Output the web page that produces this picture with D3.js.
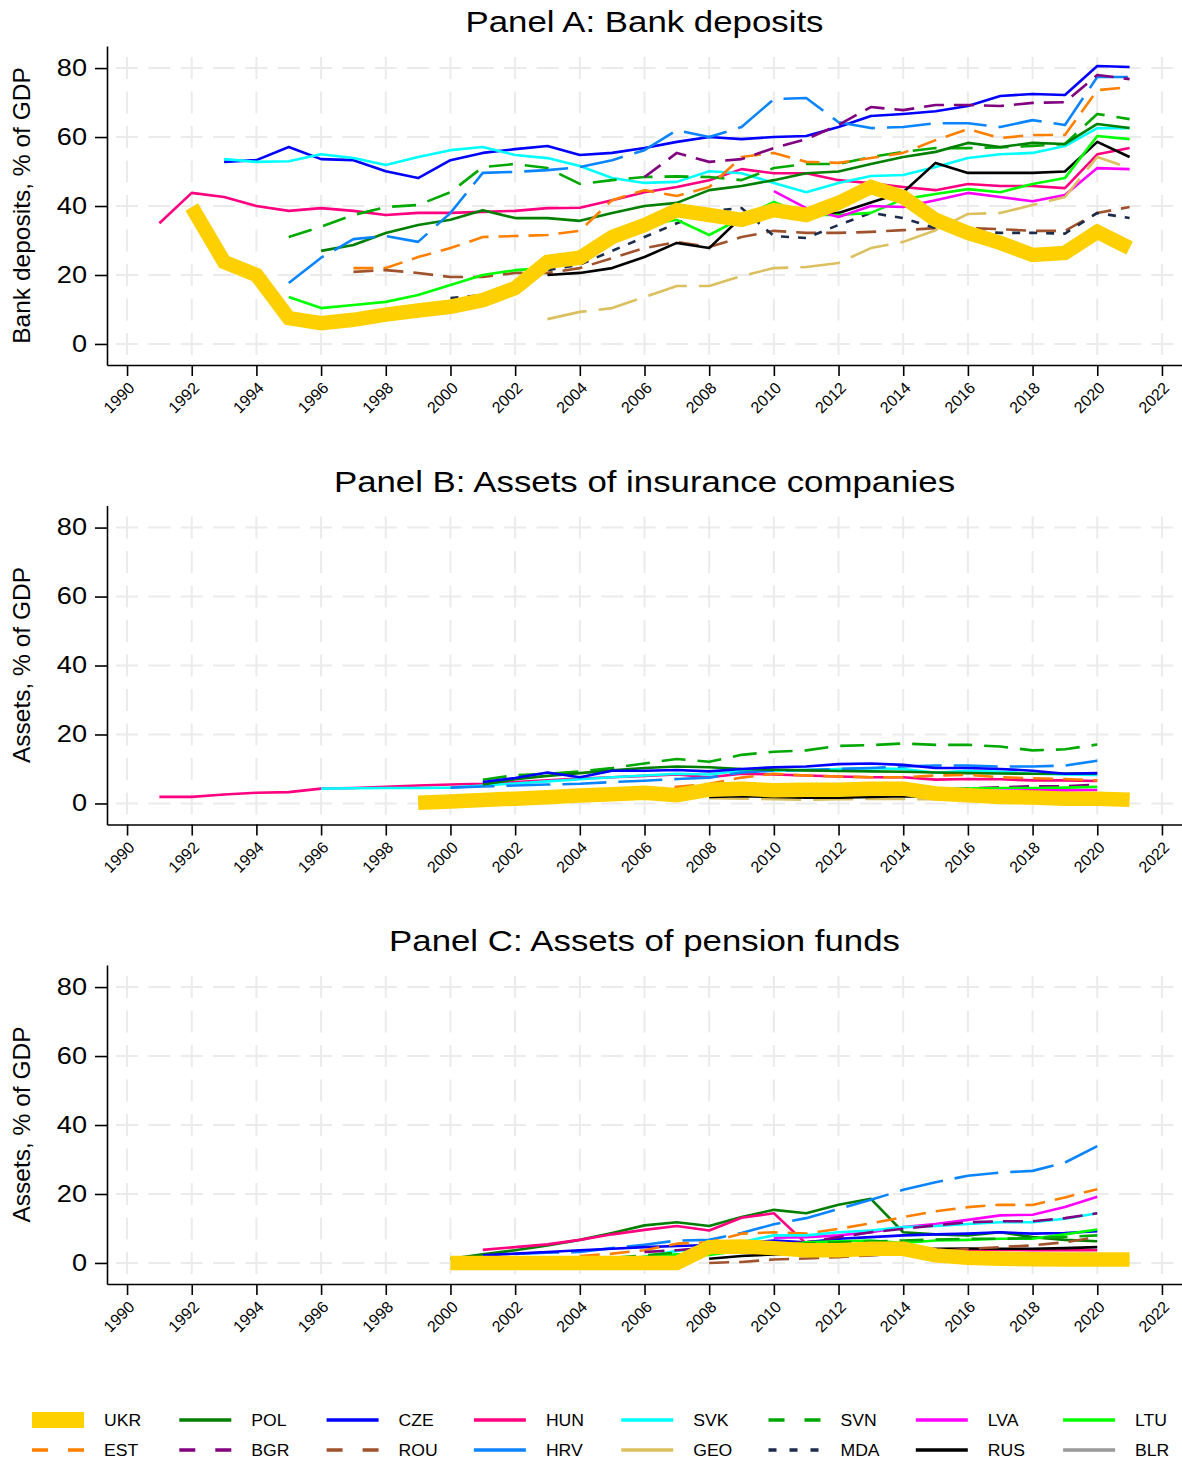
<!DOCTYPE html>
<html>
<head>
<meta charset="utf-8">
<script src="https://cdn.jsdelivr.net/npm/d3@7"></script>
<style>
  body { margin: 0; background: #fff; }
  svg { display: block; font-family: "Liberation Sans", Arial, sans-serif; }
</style>
</head>
<body>
<svg id="chart" width="1182" height="1462"></svg>
<script>
// Paises, en el orden de la leyenda (por columnas)
const countries = ["UKR", "EST", "POL", "BGR", "CZE", "ROU", "HUN", "HRV", "SVK", "GEO", "SVN", "MDA", "LVA", "RUS", "LTU", "BLR"]
const colors = ["#ffd000", "#ff8000", "#007f00", "#800080", "#0000ff", "#a0522d", "#ff0080", "#0a84ff",
  "#00ffff", "#dcc060", "#00a800", "#1c2c4c", "#ff00ff", "#000000", "#00ff00", "#999999"]
const dashes = ["", "20,10", "", "20,10", "", "20,10", "", "44,12", "", "40,12", "24,12", "8,9", "", "", "", ""]

const yTicks = [0, 20, 40, 60, 80]
const xTicks = [1990, 1992, 1994, 1996, 1998, 2000, 2002, 2004, 2006, 2008, 2010, 2012, 2014, 2016, 2018, 2020, 2022]

const panelTitles = ["Panel A: Bank deposits", "Panel B: Assets of insurance companies", "Panel C: Assets of pension funds"]
const yLabels = ["Bank deposits, % of GDP", "Assets, % of GDP", "Assets, % of GDP"]

// [pais, primer año, valores anuales]
const bankDeposits = [
  ["HUN", 1991, [35, 43.8, 42.6, 40, 38.6, 39.4, 38.6, 37.4, 38, 38, 38.3, 38.6, 39.4, 39.5, 41.7, 44, 45.5, 47.5, 50.7, 49.5, 49.5, 47.5, 46.6, 45.5, 44.6, 46.4, 45.8, 45.8, 45.2, 55, 56.8]],
  ["CZE", 1993, [52.8, 53.3, 57.1, 53.6, 53.3, 50.1, 48.1, 53.3, 55.4, 56.5, 57.4, 54.8, 55.4, 56.8, 58.6, 60, 59.4, 60, 60.3, 62.9, 66.1, 66.7, 67.5, 69, 71.9, 72.5, 72.2, 80.6, 80.3]],
  ["SVK", 1993, [53.6, 52.8, 53, 55, 53.9, 51.9, 54.2, 56.2, 57.1, 54.8, 53.9, 51.6, 48.1, 46.7, 47, 50.1, 49.5, 46.7, 44, 46.7, 48.7, 49, 51.3, 53.9, 55, 55.4, 57.4, 62.6, 62.6]],
  ["SVN", 1995, [31, 34, 37.4, 39.7, 40.3, 44, 51.3, 52.2, 51, 46.4, 47.5, 48.4, 48.6, 48.4, 47.5, 51, 52.2, 52.2, 54.2, 55.7, 56.8, 56.8, 57, 57.4, 58, 66.7, 65.2]],
  ["POL", 1996, [27, 28.7, 32.2, 34.5, 36, 38.8, 36.5, 36.5, 35.7, 38, 40, 40.9, 44.6, 45.8, 47.5, 49.5, 50, 52.2, 54.2, 55.7, 58.3, 57.1, 58.3, 58, 63.8, 62.6]],
  ["HRV", 1995, [17.7, 25, 30.4, 31.3, 29.6, 38, 49.6, 49.9, 50.4, 51.3, 53.3, 56.2, 62, 60, 62.9, 71, 71.3, 64.3, 62.6, 62.9, 64, 64, 62.9, 64.9, 63.5, 77.4, 77.4]],
  ["EST", 1997, [22, 22, 25.2, 27.8, 31, 31.3, 31.6, 32.8, 41.7, 44.6, 42.9, 45.5, 54.2, 55.4, 52.8, 52.5, 53.9, 55.4, 59.1, 62.3, 59.7, 60.6, 60.6, 73.6, 74.5]],
  ["BGR", 2006, [48.4, 55.4, 52.8, 53.6, 56.8, 59.4, 63.5, 68.7, 67.8, 69.3, 69.3, 69, 69.9, 70.1, 78, 76.8]],
  ["ROU", 1997, [20.9, 21.4, 20.6, 19.4, 19.4, 20.6, 20.6, 22, 24.9, 27.8, 29.6, 28.1, 31, 32.8, 32.2, 32.2, 32.5, 33, 33.6, 33.6, 33.3, 32.8, 32.8, 38, 39.7]],
  ["MDA", 2000, [13.3, 14.2, 17.7, 21.4, 23, 27, 31, 35, 38.5, 39.4, 31.3, 30.7, 34.5, 38, 36.5, 33.6, 32.8, 32.2, 32.2, 32, 38, 36.5]],
  ["RUS", 2003, [20, 20.6, 22, 25.2, 29.3, 27.8, 36.8, 38.5, 37.5, 38, 41, 44, 52.5, 49.6, 49.6, 49.6, 50, 58.6, 54.2]],
  ["LTU", 1995, [13.6, 10.4, 11.3, 12.2, 14.2, 17.1, 20, 21.4, 22, 26.7, 32.2, 34.5, 36, 31.6, 36.5, 41.2, 37.4, 37.4, 38, 42, 43.5, 44.9, 44, 46.4, 48.1, 60.3, 59.4]],
  ["LVA", 2010, [44.3, 39.4, 36.8, 40, 39.7, 41.7, 43.8, 42.6, 41.4, 43.2, 51, 50.7]],
  ["GEO", 2003, [7.2, 9.3, 10.4, 13.6, 16.8, 16.8, 19.7, 22, 22.3, 23.5, 27.8, 29.6, 33, 37.7, 38, 40.3, 42.6, 54.2, 51]],
  ["UKR", 1992, [39.7, 23.8, 20, 7.5, 6, 7, 8.5, 9.7, 10.8, 12.7, 16.2, 23.8, 25, 31, 34.5, 38.8, 37.4, 36, 38.8, 37.4, 40.9, 45.5, 42.6, 36, 32.2, 29.3, 25.8, 26.4, 32.5, 27.8]]
]

const insuranceAssets = [
  ["HUN", 1991, [1.9, 1.9, 2.6, 3.1, 3.3, 4.3, 4.5, 4.8, 5.2, 5.5, 5.7, 6.2, 6.7, 7.2, 7.6, 8, 8.4, 7.6, 8.6, 8.4, 8.1, 7.8, 7.6, 7.6, 6.9, 7.1, 7, 6.7, 6.7, 6.5]],
  ["SVK", 1996, [4.3, 4.4, 4.5, 4.5, 4.6, 5.2, 5.8, 6.4, 7, 7.6, 8.1, 8.6, 8.4, 9.5, 9.5, 9.7, 10, 10.2, 10, 8.9, 9.5, 9.2, 8.6, 8.4, 8.3]],
  ["HRV", 2000, [4.6, 4.9, 5.2, 5.5, 5.7, 6.2, 6.6, 7.1, 7.5, 9, 9.5, 9.7, 10, 10.3, 10.7, 11, 11, 10.7, 10.7, 11, 12.4]],
  ["SVN", 2001, [6.9, 8.2, 8.6, 9.3, 10.3, 11.6, 12.9, 12.1, 14.1, 15, 15.4, 16.7, 16.9, 17.4, 17, 17, 16.5, 15.4, 15.7, 17.1]],
  ["POL", 2001, [5.5, 7, 8, 8.8, 9.6, 10.3, 10.7, 10.5, 10, 9.8, 9.6, 9.4, 9.3, 9.2, 9, 8.8, 8.7, 8.6, 8.7, 8.7]],
  ["CZE", 2001, [6.2, 7.4, 9, 7.6, 9.5, 9.5, 9.7, 9.3, 10, 10.5, 10.7, 11.4, 11.6, 11.2, 10.3, 10.3, 10, 9.5, 8.6, 8.8]],
  ["EST", 2006, [4, 4.8, 5.7, 7.5, 8.6, 8.1, 7.8, 7.6, 7.6, 8.1, 8.3, 7.6, 7.3, 7.1, 6.7]],
  ["BGR", 2008, [2.5, 2.7, 3, 3.3, 3.4, 3.5, 3.8, 4, 4.3, 4.7, 5, 5, 5.5]],
  ["LTU", 2008, [2.6, 2.8, 3.1, 3.2, 3.3, 3.6, 3.9, 4.1, 4.3, 4.5, 4.5, 4.6, 4.8]],
  ["LVA", 2008, [2, 2.3, 2.6, 2.9, 3, 3.1, 3.4, 3.5, 3.6, 3.7, 3.8, 3.8, 3.9]],
  ["GEO", 2008, [1.5, 1.4, 1.2, 1.1, 1.2, 1.3, 1.3, 1.2, 1.1, 1.2, 1.3, 1.3, 1.3]],
  ["RUS", 2008, [1.9, 2.1, 1.9, 1.7, 1.7, 1.9, 2.1, 2, 2, 1.9, 1.9, 2, 2.2]],
  ["UKR", 1999, [0.2, 0.6, 1, 1.4, 1.8, 2.3, 2.7, 3.1, 2.4, 4, 4.3, 3.8, 4, 4, 4.3, 4.3, 2.9, 2.4, 1.9, 1.7, 1.4, 1.4, 1.1]]
]

const pensionAssets = [
  ["POL", 2000, [1.2, 2.5, 3.7, 5.1, 6.7, 8.7, 10.9, 11.8, 10.7, 13.3, 15.4, 14.4, 16.9, 18.6, 8.9, 8.3, 8, 8.9, 7.5, 6.7, 6.3]],
  ["HUN", 2001, [3.8, 4.6, 5.4, 6.7, 8.3, 9.6, 10.7, 9.4, 13.1, 14.4, 5.6, 4.5, 4.2, 4, 3.9, 3.8, 3.8, 3.7, 3.7, 3.7]],
  ["HRV", 2002, [2.6, 3, 3.2, 4.3, 5.3, 6.5, 6.7, 8.7, 11.2, 13, 15.7, 18.3, 21.2, 23.4, 25.3, 26.2, 26.7, 29.1, 33.9]],
  ["CZE", 2001, [2.2, 2.7, 3.2, 3.7, 4.1, 4.6, 4.9, 5.2, 5.8, 6.5, 6, 7, 7.5, 8, 8.3, 8.5, 8.9, 8.5, 8.7, 9.2]],
  ["EST", 2004, [2, 2.7, 3.7, 5.6, 6, 8.5, 8.9, 8.5, 9.9, 11.5, 13.3, 15, 16.2, 16.9, 16.8, 19, 21.4]],
  ["LVA", 2010, [7.3, 7.5, 8, 8.9, 10.4, 11.3, 12.5, 13.8, 14, 16.2, 19.2]],
  ["SVK", 2005, [0.5, 1.8, 3.5, 4.5, 6.1, 8, 8, 8.9, 9.4, 10.4, 10.7, 11.3, 11.8, 11.8, 12.8, 14.4]],
  ["BGR", 2006, [3.2, 3.7, 4.5, 5, 5.6, 6, 7.5, 8.9, 9.9, 10.9, 11.8, 12.1, 12.1, 13, 14.4]],
  ["LTU", 2004, [0.3, 1, 1.8, 2.5, 2.3, 3.6, 4.5, 6, 6.3, 6.5, 5.8, 6.5, 6.7, 7, 7, 8.3, 9.7]],
  ["SVN", 2005, [1.5, 2.2, 3, 3.5, 4.5, 5.2, 5.6, 6, 6.2, 6.5, 6.8, 7, 7, 7.2, 7.5, 8]],
  ["RUS", 2008, [1.2, 2, 2.5, 3, 3.3, 3.6, 3.9, 4.1, 4.2, 4.1, 4.1, 4.3, 4.6]],
  ["ROU", 2008, [0, 0.3, 1, 1.3, 1.7, 2.2, 2.7, 3.2, 4.1, 4.6, 5.1, 6, 7.5]],
  ["UKR", 2000, [0, 0, 0, 0, 0, 0, 0, 0, 4.6, 4.8, 4.3, 3.7, 3.7, 4.1, 4.1, 2.2, 1.5, 1.25, 1.1, 1, 1, 1]]
]

const panels = [bankDeposits, insuranceAssets, pensionAssets]

const svg = d3.select('#chart')
const color = d3.scaleOrdinal(countries, colors)
const dash = d3.scaleOrdinal(countries, dashes)

// Geometría de cada panel
const left = 107, right = 1182
const panelTop = [46, 505.5, 965]
const panelH = 319

const x = d3.scaleLinear().domain([1989.38, 2022.62]).range([left, right])

// Ensancha el texto horizontalmente (las fuentes del original son más anchas)
const stretch = (sel, factor) => {
  sel.each(function () {
    const w = this.getComputedTextLength()
    d3.select(this).attr('textLength', w * factor).attr('lengthAdjust', 'spacingAndGlyphs')
  })
}

const draw_panel = (data, i) => {
  const top = panelTop[i], bottom = top + panelH
  const y = d3.scaleLinear().domain([-6.1, 86.4]).range([bottom, top])
  const g = svg.append('g').attr('class', `panel-${i}`)

  // Rejilla punteada
  g.append('g').selectAll('line.hgrid')
    .data(yTicks).enter().append('line')
    .attr('x1', left).attr('x2', right)
    .attr('y1', d => y(d)).attr('y2', d => y(d))
    .attr('stroke', '#ebebeb').attr('stroke-width', 2)
    .attr('stroke-dasharray', '22,10.35').attr('stroke-dashoffset', -9)
  g.append('g').selectAll('line.vgrid')
    .data(xTicks).enter().append('line')
    .attr('x1', d => x(d)).attr('x2', d => x(d))
    .attr('y1', bottom).attr('y2', top)
    .attr('stroke', '#ebebeb').attr('stroke-width', 2)
    .attr('stroke-dasharray', '22,12.5').attr('stroke-dashoffset', -10)

  // Ejes
  const xAxis = g.append('g')
    .attr('transform', `translate(0,${bottom})`)
    .call(d3.axisBottom(x).tickValues(xTicks).tickFormat(d3.format('d')).tickSize(11).tickSizeOuter(0))
  xAxis.selectAll('text')
    .attr('y', 0).attr('x', 0).attr('dy', '0.35em')
    .attr('text-anchor', 'end')
    .attr('transform', 'translate(4,20) rotate(-45)')
    .attr('font-size', 16).attr('fill', '#000')

  const yAxis = g.append('g')
    .attr('transform', `translate(${left},0)`)
    .call(d3.axisLeft(y).tickValues(yTicks).tickSize(12).tickSizeOuter(0).tickPadding(8))
  yAxis.selectAll('text').attr('font-size', 23).attr('fill', '#000').call(stretch, 1.18)

  g.selectAll('.domain, .tick line').attr('stroke', '#000').attr('stroke-width', 1.6)

  // Titulo y etiqueta del eje y
  g.append('text')
    .attr('x', (left + right) / 2).attr('y', top - 14)
    .attr('text-anchor', 'middle').attr('font-size', 29.5)
    .text(panelTitles[i])
    .call(stretch, 1.18)
  g.append('text')
    .attr('transform', `translate(30,${(top + bottom) / 2}) rotate(-90)`)
    .attr('text-anchor', 'middle').attr('font-size', 24.5)
    .text(yLabels[i])

  // Series
  const line = d3.line().x(d => x(d[0])).y(d => y(d[1]))
  data.forEach(([name, start, vals]) => {
    const pts = vals.map((v, k) => [start + k, v])
    const isUkr = name === 'UKR'
    g.append('path')
      .datum(pts)
      .attr('d', line)
      .attr('fill', 'none')
      .attr('stroke', color(name))
      .attr('stroke-width', isUkr ? 14.5 : 2.6)
      .attr('stroke-dasharray', dash(name) || null)
      .attr('stroke-linejoin', isUkr ? 'miter' : 'round')
  })
}

panels.forEach((p, i) => draw_panel(p, i))

// Leyenda: 8 columnas x 2 filas, llenada por columnas
const legend = svg.append('g').attr('class', 'legend')
countries.forEach((c, k) => {
  const col = Math.floor(k / 2), row = k % 2
  const lx = 32 + col * 147.3, ly = 1420 + row * 30
  if (c === 'UKR') {
    legend.append('rect')
      .attr('x', lx).attr('y', ly - 8).attr('width', 52).attr('height', 16)
      .attr('fill', color(c))
  } else {
    legend.append('line')
      .attr('x1', lx).attr('x2', lx + 52).attr('y1', ly).attr('y2', ly)
      .attr('stroke', color(c)).attr('stroke-width', 3.5)
      .attr('stroke-dasharray', c === 'MDA' ? '8,13' : (dash(c) && dash(c).startsWith('2') ? '16,20' : null))
  }
  legend.append('text')
    .attr('x', lx + 72).attr('y', ly).attr('dy', '0.35em')
    .attr('font-size', 16).text(c)
    .call(stretch, 1.1)
})
</script>
</body>
</html>
